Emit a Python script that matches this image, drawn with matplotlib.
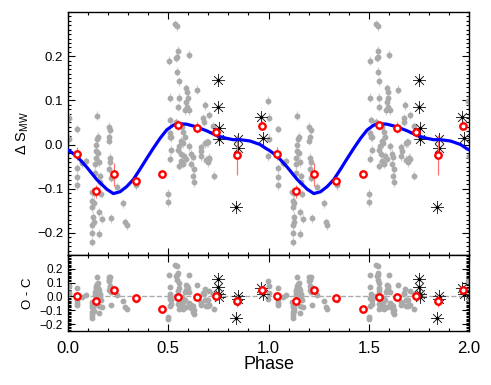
"""Phase-folded Delta S_MW with model curve and O - C residuals"""

import numpy as np
import matplotlib
matplotlib.use('Agg')
import matplotlib.pyplot as plt
from matplotlib.ticker import MultipleLocator

# --- data (one cycle, repeated at phase + 1) ---
gray_phase = [
    0.004, 0.004, 0.046, 0.045, 0.045, 0.047, 0.070, 0.088, 0.997, 0.998,
    0.143, 0.150, 0.145, 0.140, 0.140, 0.152, 0.138, 0.135, 0.155, 0.135,
    0.160, 0.160, 0.118, 0.128, 0.165, 0.122, 0.128, 0.122, 0.125, 0.128,
    0.122, 0.120, 0.120, 0.155, 0.172, 0.155,
    0.203, 0.210, 0.205, 0.203, 0.208, 0.210, 0.205, 0.212, 0.243, 0.215,
    0.276, 0.286, 0.293, 0.340,
    0.505, 0.507, 0.509, 0.507, 0.509, 0.515, 0.515, 0.508, 0.500, 0.500,
    0.535, 0.545, 0.547, 0.545, 0.539, 0.602, 0.545, 0.552, 0.552, 0.549,
    0.589, 0.595, 0.598, 0.589, 0.595, 0.585, 0.605, 0.645, 0.681, 0.675,
    0.678, 0.705, 0.725,
    0.537, 0.568, 0.575, 0.582, 0.565, 0.572, 0.555, 0.549, 0.562, 0.579,
    0.589, 0.565, 0.552, 0.575, 0.605, 0.615, 0.622, 0.615, 0.628, 0.622,
    0.628, 0.662, 0.665, 0.685, 0.698, 0.662, 0.688, 0.698, 0.702, 0.728,
    0.693, 0.705,
]
gray_val = [
    0.061, 0.013, 0.035, -0.053, -0.073, -0.092, -0.042, -0.038, 0.099, -0.027,
    0.065, 0.018, 0.013, 0.000, -0.015, -0.020, -0.030, -0.045, -0.040, -0.064,
    -0.072, -0.085, -0.107, -0.110, -0.112, -0.127, -0.133, -0.142, -0.163, -0.176,
    -0.183, -0.200, -0.220, -0.202, -0.168, -0.153,
    0.040, 0.033, 0.016, 0.008, -0.030, -0.040, -0.055, -0.075, -0.097, -0.167,
    -0.133, -0.176, -0.183, -0.092,
    0.190, 0.106, 0.055, 0.027, 0.018, 0.016, -0.012, -0.032, -0.111, -0.131,
    0.273, 0.268, 0.212, 0.199, 0.196, 0.203, 0.165, 0.143, 0.106, 0.085,
    0.128, 0.118, 0.106, 0.096, 0.085, 0.078, 0.078, 0.124, 0.089, 0.059,
    0.051, 0.067, 0.042,
    0.051, 0.040, 0.029, 0.018, 0.009, 0.003, -0.004, -0.012, -0.021, -0.027,
    -0.032, -0.038, -0.048, -0.044, -0.004, -0.021, -0.028, -0.044, -0.056, -0.071,
    -0.085, -0.006, -0.015, 0.003, 0.005, -0.027, -0.034, -0.040, -0.030, -0.071,
    0.005, -0.032,
]
gray_err = 0.010

red_phase = [0.043, 0.138, 0.229, 0.339, 0.470, 0.550, 0.642, 0.737, 0.845, 0.968]
red_val = [-0.021, -0.106, -0.067, -0.083, -0.067, 0.044, 0.038, 0.028, -0.023, 0.043]
red_err = [0.015, 0.015, 0.026, 0.007, 0.006, 0.010, 0.012, 0.012, 0.045, 0.010]

star_phase = [0.750, 0.750, 0.754, 0.754, 0.839, 0.849, 0.849, 0.963, 0.975]
star_val = [0.146, 0.085, 0.038, 0.012, -0.142, 0.012, -0.008, 0.063, 0.015]

curve_phase = [0.0, 0.043, 0.093, 0.143, 0.193, 0.226, 0.259, 0.293, 0.326, 0.359,
               0.392, 0.426, 0.459, 0.492, 0.525, 0.559, 0.592, 0.625, 0.658, 0.692,
               0.725, 0.758, 0.791, 0.824, 0.858, 0.908, 0.958, 0.991, 1.0]
curve_val = [-0.012, -0.026, -0.051, -0.079, -0.101, -0.111, -0.107, -0.095, -0.079, -0.056,
             -0.032, -0.008, 0.014, 0.033, 0.044, 0.047, 0.046, 0.042, 0.037, 0.031,
             0.024, 0.018, 0.014, 0.011, 0.011, 0.008, 0.000, -0.010, -0.012]

plt.rcParams['font.family'] = ['Liberation Sans', 'DejaVu Sans']
plt.rcParams['mathtext.fontset'] = 'custom'
plt.rcParams['mathtext.rm'] = 'Liberation Sans'


def two_cycles(ph, val):
    ph = np.asarray(ph)
    val = np.asarray(val)
    return np.concatenate([ph, ph + 1]), np.concatenate([val, val])


def residual(ph, val):
    return np.asarray(val) - np.interp(ph, curve_phase, curve_val)


def style_axes(ax, ymajor, yminor):
    ax.set_xlim(0, 2)
    ax.set_ylim(-0.25, 0.3)
    ax.xaxis.set_major_locator(MultipleLocator(0.5))
    ax.xaxis.set_minor_locator(MultipleLocator(0.1))
    ax.yaxis.set_major_locator(MultipleLocator(ymajor))
    ax.yaxis.set_minor_locator(MultipleLocator(yminor))
    ax.tick_params(which='both', direction='in', top=True, right=True, width=0.8)
    ax.tick_params(which='major', length=5)
    ax.tick_params(which='minor', length=2.5)
    for sp in ax.spines.values():
        sp.set_linewidth(1.0)


def draw_points(ax, gv, rv, sv):
    gx, gy = two_cycles(gray_phase, gv)
    ax.errorbar(gx, gy, yerr=gray_err, fmt='o', ms=3.2, color='#aaaaaa',
                ecolor='#d0d0d0', elinewidth=0.8, capsize=0, zorder=2)
    sx, sy = two_cycles(star_phase, sv)
    ax.plot(sx, sy, ls='none', marker=(8, 2, 0), ms=9, mew=0.5, color='#333333', zorder=3)
    ax.plot(sx, sy, ls='none', marker='o', ms=1.5, color='black', zorder=3)
    rx, ry = two_cycles(red_phase, rv)
    _, re = two_cycles(red_phase, red_err)
    ax.errorbar(rx, ry, yerr=re, fmt='none', ecolor='#ff7070', elinewidth=0.9,
                capsize=0, zorder=4)
    ax.plot(rx, ry, ls='none', marker='o', ms=4.6, mfc='white', mec='red',
            mew=1.7, zorder=6)


fig = plt.figure(figsize=(4.91, 3.85), dpi=100)
ax1 = fig.add_axes([0.1385, 0.3377, 0.8167, 0.6311])
ax2 = fig.add_axes([0.1385, 0.1403, 0.8167, 0.1974], sharex=ax1)

# top panel
draw_points(ax1, gray_val, red_val, star_val)
cx, cy = two_cycles(curve_phase, curve_val)
ax1.plot(cx, cy, color='blue', lw=2.3, zorder=5, solid_capstyle='round')
style_axes(ax1, 0.1, 0.01)
ax1.set_yticks([-0.2, -0.1, 0.0, 0.1, 0.2])
ax1.tick_params(labelbottom=False, labelsize=9.5)
ax1.set_ylabel(r'$\Delta$ S$_{\rm MW}$', fontsize=10.5, labelpad=4)

# bottom panel: O - C
ax2.axhline(0, color='#aaaaaa', ls='--', lw=1.0, zorder=1)
draw_points(ax2, residual(gray_phase, gray_val), residual(red_phase, red_val),
             residual(star_phase, star_val))
style_axes(ax2, 0.1, 0.01)
ax2.set_yticks([-0.2, -0.1, 0.0, 0.1, 0.2])
ax2.tick_params(axis='y', labelsize=8.5)
ax2.tick_params(axis='x', labelsize=12, pad=7)
ax2.set_xticks([0.0, 0.5, 1.0, 1.5, 2.0])
ax2.set_xticklabels(['0.0', '0.5', '1.0', '1.5', '2.0'])
ax2.set_ylabel('O - C', fontsize=9.5, labelpad=4)
ax2.set_xlabel('Phase', fontsize=13, labelpad=0)

fig.savefig('out.png', dpi=100)
